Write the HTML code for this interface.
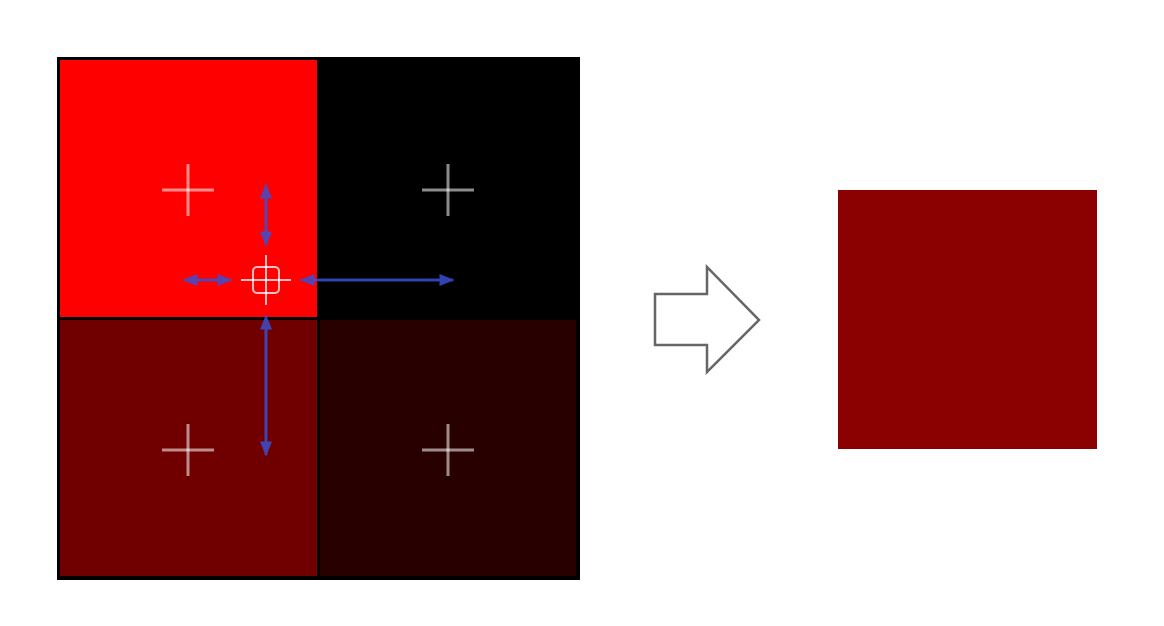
<!DOCTYPE html>
<html><head><meta charset="utf-8"><style>
html,body{margin:0;padding:0;background:#fff;width:1164px;height:626px;overflow:hidden}
</style></head><body>
<svg id="s" width="1164" height="626" xmlns="http://www.w3.org/2000/svg">
<defs>
<marker id="ah" viewBox="0 0 10 10" refX="9" refY="5" markerWidth="5" markerHeight="5" orient="auto-start-reverse"><path d="M0,1 L10,5 L0,9 z" fill="#3a4fd0"/></marker>
</defs>
<rect x="57" y="57" width="523" height="523" fill="#000"/>
<g id="cells"></g>
<g id="crosses"></g>
<g stroke="rgba(255,255,255,0.75)" stroke-width="2" fill="none">
<line x1="241" y1="280" x2="291" y2="280"/>
<line x1="266" y1="255" x2="266" y2="305"/>
<rect x="253" y="267" width="26" height="26" rx="4"/>
</g>
<g stroke="#3a4fd0" stroke-width="3" opacity="0.85">
<line x1="266" y1="185" x2="266" y2="245" marker-start="url(#ah)" marker-end="url(#ah)"/>
<line x1="184" y1="280" x2="231" y2="280" marker-start="url(#ah)" marker-end="url(#ah)"/>
<line x1="301" y1="280" x2="453" y2="280" marker-start="url(#ah)" marker-end="url(#ah)"/>
<line x1="266" y1="316" x2="266" y2="455" marker-start="url(#ah)" marker-end="url(#ah)"/>
</g>
<path d="M655,294 L707,294 L707,267 L759,320 L707,372 L707,345 L655,345 Z" fill="#fff" stroke="#666" stroke-width="2.5" stroke-linejoin="miter"/>
<rect x="838" y="190" width="259" height="259" fill="#8b0000"/>
</svg>
<script>
const cellColors = ["#ff0000", "#000000", "#700000", "#280000"];
const cellCols = [0, 1, 0, 1];
const cellRows = [0, 0, 1, 1];
const cellNames = ["cell-top-left", "cell-top-right", "cell-bottom-left", "cell-bottom-right"];
const x0 = 60, y0 = 60, pitch = 260, size = 257;
const xPos = c => x0 + c * pitch;
const yPos = r => y0 + r * pitch;
const NS = "http://www.w3.org/2000/svg";
const cg = document.getElementById('cells'), xg = document.getElementById('crosses');
cellColors.forEach((col, i) => {
  const r = document.createElementNS(NS, 'rect');
  
  
  r.setAttribute('x', xPos(cellCols[i])); r.setAttribute('y', yPos(cellRows[i]));
  r.setAttribute('width', size - (cellCols[i] ? 1 : 0)); r.setAttribute('height', size - (cellRows[i] ? 1 : 0));
  r.setAttribute('fill', col);
  cg.appendChild(r);
  const cx = xPos(cellCols[i]) + 128, cy = yPos(cellRows[i]) + 130;
  const g = document.createElementNS(NS, 'g');
  
  
  g.setAttribute('stroke', 'rgba(255,255,255,0.55)'); g.setAttribute('stroke-width', '3');
  g.innerHTML = `<line x1="${cx-26}" y1="${cy}" x2="${cx+26}" y2="${cy}"/><line x1="${cx}" y1="${cy-26}" x2="${cx}" y2="${cy+26}"/>`;
  xg.appendChild(g);
});
</script>
</body></html>
